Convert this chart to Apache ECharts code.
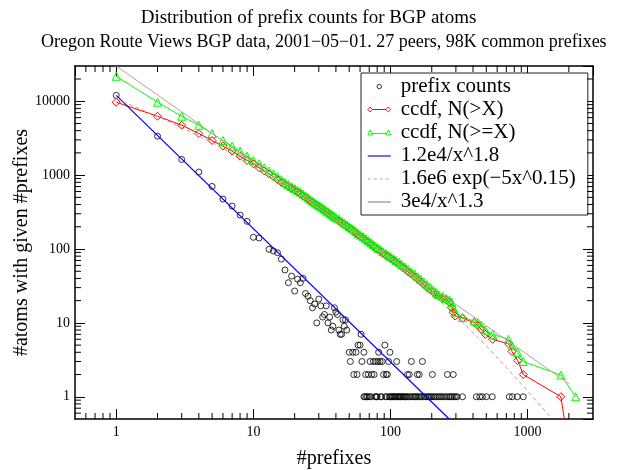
<!DOCTYPE html>
<html>
<head>
<meta charset="utf-8">
<script src="https://cdn.jsdelivr.net/npm/echarts@6/dist/echarts.min.js"></script>
<style>html,body{margin:0;padding:0;background:#fff}#c{width:617px;height:470px}</style>
</head>
<body>
<div id="c"></div>
<script>
// ---- data ----
const countX = [1,2,3,4,5,6,7,8,9,10,11,13,14,15,16,17,18,19,20,21,22,23,24,25,26,27,28,29,30,31,32,33,34,35,36,37,38,39,40,41,
  42,48,46,43,44,61,45,47,
  58,60,91,
  50,53,56,64,82,99,
  51,62,71,75,78,81,84,87,97,111,142,171,
  54,57,66,69,73,76,89,93,95,133,137,157,162,202,260,287,
  64,65,67,68,70,72,77,79,80,85,86,92,94,98,100,102,104,106,108,110,113,115,117,119,121,124,126,129,131,135,139,144,148,152,155,160,165,168,175,180,186,190,196,200,207,212,220,226,233,240,250,258,268,275,283,292,300,307,335,423,448,468,501,553,736,774,841,930];
const countY = [12000,3370,1630,1100,703,474,381,288,237,144,141,99,94,89,73,52,35,43,27,39,35,40,25,23,20,16,18,10,21,17,12,13,17,10,12,8,9,16,14,13,
  8,8,9,7,7,7,11,11,
  5,5,5,
  4,4,4,4,4,4,
  3,3,3,3,3,3,3,3,3,3,3,3,
  2,2,2,2,2,2,2,2,2,2,2,2,2,2,2,2,
  1,1,1,1,1,1,1,1,1,1,1,1,1,1,1,1,1,1,1,1,1,1,1,1,1,1,1,1,1,1,1,1,1,1,1,1,1,1,1,1,1,1,1,1,1,1,1,1,1,1,1,1,1,1,1,1,1,1,1,1,1,1,1,1,1,1,1,1];

const ccdfX = [1,2,3,4,5,6,7,8,9,10,11,12,13,14,15,16,17,18,19,20,21,22,23,24,25,26,27,28,29,30,31,32,33,34,35,36,37,38,39,40,
  42,44,46,48,50,52,54,56,58,60,63,66,69,72,75,78,81,85,88,92,96,100,105,110,116,122,128,135,142,150,158,166,175,185,195,205,215,225,240,255,269,280,287,296,336,409,433,458,492,556,727,770,846,930,1750,2240];
const ccdfGt = [9700,6270,4740,3660,2940,2470,2110,1806,1580,1426,1260,1140,1040,950,870,800,745,700,660,625,590,555,525,495,470,445,425,405,390,375,358,345,332,318,306,295,285,276,265,255,
  240,226,213,202,192,182,172,163,155,148,139,130,122,115,109,103,98,92,88,83,79,75,70,66,61,57,53,49,46,42,39,36,33,30,28,26,24,23,21.5,20.5,19,16,13.8,12.4,11.6,10.1,9.3,8.2,7.0,6.0,5.2,4.1,3.1,2.0,1.0,0.05];
const ccdfGe = [21800,9700,6270,4740,3660,2940,2470,2110,1806,1580,1426,1260,1140,1040,950,870,800,745,700,660,625,590,555,525,495,470,445,425,405,390,375,358,345,332,318,306,295,285,276,265,
  255,240,226,213,202,192,182,172,163,155,148,139,130,122,115,109,103,98,92,88,83,79,75,70,66,61,57,53,49,46,42,39,36,33,30,28,26,24,23,21.5,20.5,19,16,14,11.8,10.6,10.1,9.3,8.0,7.0,6.0,4.9,4.0,3.0,1.97,1.0];

const fit18X = [1,268];
const fit18Y = [12000,0.5];
const fitExpX = [1,2,3,5,7,10,20,30,50,100,200,300,500,700,1000,1440];
const fitExpY = [10800,6230,4400,2750,1980,1370,632,387,199,74,25,12.5,4.9,2.5,1.2,0.55];
const fit13X = [1,2000];
const fit13Y = [30000,1.5];

const xMinorTicks = [0.6,0.7,0.8,0.9,2,3,4,5,6,7,8,9,20,30,40,50,60,70,80,90,200,300,400,500,600,700,800,900,2000];
const yMinorTicks = [0.6,0.7,0.8,0.9,2,3,4,5,6,7,8,9,20,30,40,50,60,70,80,90,200,300,400,500,600,700,800,900,2000,3000,4000,5000,6000,7000,8000,9000,20000];

const titleText = 'Distribution of prefix counts for BGP atoms';
const subtitleText = 'Oregon Route Views BGP data, 2001\u221205\u221201. 27 peers, 98K common prefixes';
const seriesNames = ['prefix counts','ccdf, N(>X)','ccdf, N(>=X)','1.2e4/x^1.8','1.6e6 exp(\u22125x^0.15)','3e4/x^1.3'];

// ---- chart ----
const FONT = 'Liberation Serif';
const zip = (a, b) => a.map((v, i) => [v, b[i]]);
const chart = echarts.init(document.getElementById('c'), null, {renderer: 'canvas'});

const RED = '#ff0000', GREEN = '#00ff00', BLUE = '#0000ff', DASH = '#c99a92', ROSE = '#bf9f9a';
const CLEAR = 'rgba(0,0,0,0)';

const baseAxis = {
  type: 'log', logBase: 10,
  axisLine: {show: true, lineStyle: {color: '#000', width: 1.5}},
  axisTick: {show: true, inside: true, length: 10, lineStyle: {color: '#000', width: 1}},
  splitLine: {show: false},
  minorTick: {show: false},
};
const labelFmt = v => String(Math.round(v));

function minorTickSeries(values, isX) {
  return {
    type: 'custom', silent: true, xAxisIndex: 0, yAxisIndex: 0, z: 5,
    data: values.map(v => isX ? [v, 1] : [1, v]),
    encode: {x: 0, y: 1},
    renderItem: function (params, api) {
      const cs = params.coordSys;
      const p = api.coord([api.value(0), api.value(1)]);
      const L = 6;
      const st = {stroke: '#000', lineWidth: 1};
      if (isX) {
        const x = p[0];
        return {type: 'group', children: [
          {type: 'line', shape: {x1: x, y1: cs.y + cs.height, x2: x, y2: cs.y + cs.height - L}, style: st},
          {type: 'line', shape: {x1: x, y1: cs.y, x2: x, y2: cs.y + L}, style: st}
        ]};
      } else {
        const y = p[1];
        return {type: 'group', children: [
          {type: 'line', shape: {x1: cs.x, y1: y, x2: cs.x + L, y2: y}, style: st},
          {type: 'line', shape: {x1: cs.x + cs.width, y1: y, x2: cs.x + cs.width - L, y2: y}, style: st}
        ]};
      }
    }
  };
}

// legend icons (24x8 box, outline only)
const BOX = 'M0,0M24,8';
const iconDot = 'path://' + BOX + 'M14.3,4A2.3,2.3,0,1,1,9.7,4A2.3,2.3,0,1,1,14.3,4Z';
const iconDiamond = 'path://' + BOX + 'M0,4L2.5,1.5L5,4L2.5,6.5ZM5,4L19,4M19,4L21.5,1.5L24,4L21.5,6.5Z';
const iconTriangle = 'path://' + BOX + 'M0,6.5L2.5,1.5L5,6.5ZM4,5L20,5M19,6.5L21.5,1.5L24,6.5Z';
const iconLine = 'path://' + BOX + 'M0,4.5L24,4.5';

chart.setOption({
  animation: false,
  backgroundColor: '#fff',
  title: [
    {text: titleText, left: 'center', top: 4,
     textStyle: {fontFamily: FONT, fontSize: 19, fontWeight: 'normal', color: '#000'}},
    {text: subtitleText, left: 36, top: 28,
     textStyle: {fontFamily: FONT, fontSize: 18, fontWeight: 'normal', color: '#000'}}
  ],
  grid: {left: 75, top: 66, right: 24, bottom: 51, containLabel: false, outerBoundsMode: 'none'},
  legend: {
    orient: 'vertical', left: 361, top: 73,
    selectedMode: false,
    data: [
      {name: seriesNames[0], icon: iconDot, itemStyle: {color: CLEAR, borderColor: '#000', borderWidth: 1}},
      {name: seriesNames[1], icon: iconDiamond, itemStyle: {color: CLEAR, borderColor: RED, borderWidth: 1}},
      {name: seriesNames[2], icon: iconTriangle, itemStyle: {color: CLEAR, borderColor: GREEN, borderWidth: 1}},
      {name: seriesNames[3], icon: iconLine, itemStyle: {color: CLEAR, borderColor: '#2020ff', borderWidth: 1.3}},
      {name: seriesNames[4], icon: iconLine, itemStyle: {color: CLEAR, borderColor: DASH, borderWidth: 1, borderType: [3, 3]}},
      {name: seriesNames[5], icon: iconLine, itemStyle: {color: CLEAR, borderColor: ROSE, borderWidth: 1.5}}
    ],
    borderColor: '#222', borderWidth: 1, backgroundColor: '#fff',
    padding: [3, 12, 3, 6], itemGap: 2, itemWidth: 23, itemHeight: 8, symbolKeepAspect: true,
    textStyle: {fontFamily: FONT, fontSize: 21, color: '#000', padding: [0, 0, 0, 5]}
  },
  xAxis: [
    Object.assign({}, baseAxis, {
      min: 0.5, max: 3000, position: 'bottom',
      name: '#prefixes', nameLocation: 'middle', nameGap: 30, nameMoveOverlap: false,
      nameTextStyle: {fontFamily: FONT, fontSize: 20, color: '#000'},
      axisLabel: {show: true, fontFamily: FONT, fontSize: 14, color: '#000', margin: 6, showMinLabel: false, showMaxLabel: false, formatter: labelFmt}
    }),
    Object.assign({}, baseAxis, {min: 0.5, max: 3000, position: 'top', axisLabel: {show: false}})
  ],
  yAxis: [
    Object.assign({}, baseAxis, {
      min: 0.5, max: 30000, position: 'left',
      name: '#atoms with given #prefixes', nameLocation: 'middle', nameGap: 43, nameMoveOverlap: false,
      nameTextStyle: {fontFamily: FONT, fontSize: 20, color: '#000'},
      axisLabel: {show: true, fontFamily: FONT, fontSize: 14, color: '#000', margin: 5, showMinLabel: false, showMaxLabel: false, formatter: labelFmt}
    }),
    Object.assign({}, baseAxis, {min: 0.5, max: 30000, position: 'right', axisLabel: {show: false}})
  ],
  series: [
    {
      name: seriesNames[0], type: 'scatter', data: zip(countX, countY),
      symbol: 'circle', symbolSize: 6,
      itemStyle: {color: CLEAR, borderColor: '#000', borderWidth: 1},
      color: '#000', z: 3
    },
    {
      name: seriesNames[1], type: 'line', data: zip(ccdfX, ccdfGt),
      symbol: 'diamond', symbolSize: 8, showSymbol: true, clip: true,
      color: RED,
      lineStyle: {color: RED, width: 1},
      itemStyle: {color: CLEAR, borderColor: RED, borderWidth: 1}, z: 3
    },
    {
      name: seriesNames[2], type: 'line', data: zip(ccdfX, ccdfGe),
      symbol: 'triangle', symbolSize: 8, showSymbol: true, clip: true,
      color: GREEN,
      lineStyle: {color: GREEN, width: 1},
      itemStyle: {color: CLEAR, borderColor: GREEN, borderWidth: 1}, z: 3
    },
    {
      name: seriesNames[3], type: 'line', data: zip(fit18X, fit18Y),
      symbol: 'none', clip: true, color: BLUE,
      lineStyle: {color: BLUE, width: 1.2}, z: 4
    },
    {
      name: seriesNames[4], type: 'line', data: zip(fitExpX, fitExpY),
      symbol: 'none', clip: true, color: DASH,
      lineStyle: {color: DASH, width: 1, type: [4, 3]}, z: 4
    },
    {
      name: seriesNames[5], type: 'line', data: zip(fit13X, fit13Y),
      symbol: 'none', clip: true, color: ROSE,
      lineStyle: {color: ROSE, width: 1}, z: 4
    },
    minorTickSeries(xMinorTicks, true),
    minorTickSeries(yMinorTicks, false)
  ]
});
</script>
</body>
</html>
